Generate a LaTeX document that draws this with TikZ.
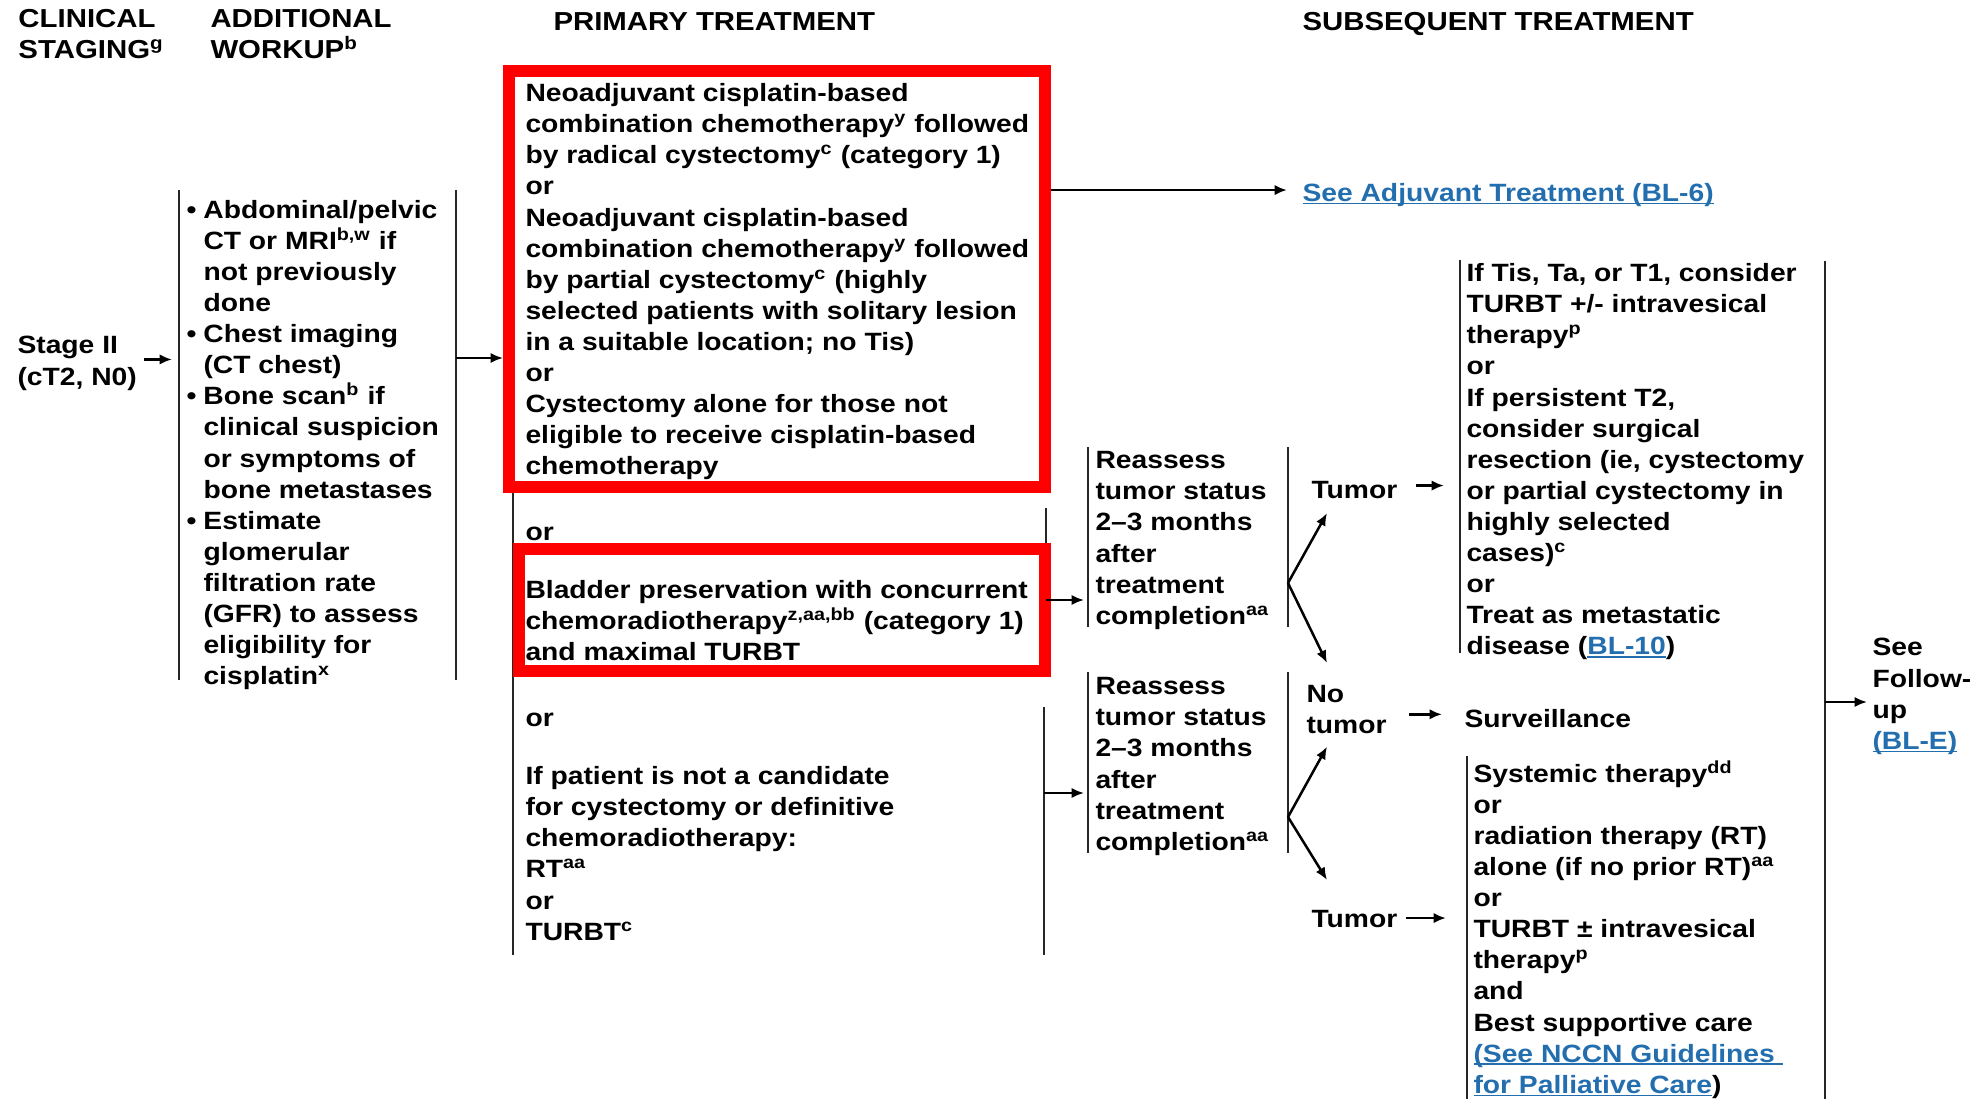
\documentclass[tikz,border=0pt]{standalone}
\usepackage{fontspec}
\setmainfont{Liberation Sans}[FakeStretch=1.13]
\usepackage{xcolor}
\usepackage{tikz}
\usetikzlibrary{arrows.meta}

\definecolor{linkblue}{RGB}{35,110,175}
\newcommand{\lnk}[1]{{\color{linkblue}\setbox0\hbox{#1}\rlap{\rule[-1.2pt]{\wd0}{0.7pt}}\box0}}
\newcommand{\bul}{\makebox[6.8pt][l]{\textbullet}}

\tikzset{
  txt/.style={anchor=north west,align=left,inner sep=0pt,font=\fontsize{10pt}{12.44pt}\selectfont\bfseries,execute at begin node=\strut},
  hdr/.style={anchor=north west,align=left,inner sep=0pt,font=\fontsize{10.4pt}{12.44pt}\selectfont\bfseries,execute at begin node=\strut},
  brk/.style={line width=1pt,black!85},
  arr/.style={-{Latex[length=5pt,width=4.2pt]},line width=1pt},
  hl/.style={draw=red,line width=4.8pt,anchor=north west,inner sep=0pt}
}

\begin{document}
\begin{tikzpicture}[x=0.4pt,y=-0.4pt]
    \useasboundingbox (0,0) rectangle (1975,1099);

    \node (C1) at (18,9)[hdr] {CLINICAL\\STAGING\textsuperscript{g}};
    \node (C2) at (210,9)[hdr] {ADDITIONAL\\WORKUP\textsuperscript{b}};
    \node (C3) at (553,8)[hdr] {PRIMARY TREATMENT};
    \node (C4) at (1302,8)[hdr] {SUBSEQUENT TREATMENT};

    \node (St) at (17,336)[txt] {Stage II\\(cT2, N0)};
    \node (Wk) at (186,196)[txt] {\begin{tabular}[t]{@{}l@{}l@{}}
      \bul & Abdominal/pelvic\\
           & CT or MRI\textsuperscript{b,w} if\\
           & not previously\\
           & done\\
      \bul & Chest imaging\\
           & (CT chest)\\
      \bul & Bone scan\textsuperscript{b} if\\
           & clinical suspicion\\
           & or symptoms of\\
           & bone metastases\\
      \bul & Estimate\\
           & glomerular\\
           & filtration rate\\
           & (GFR) to assess\\
           & eligibility for\\
           & cisplatin\textsuperscript{x}
    \end{tabular}};

    \node (P1) at (525,83)[txt] {Neoadjuvant cisplatin-based\\combination chemotherapy\textsuperscript{y} followed\\by radical cystectomy\textsuperscript{c} (category 1)\\or\\Neoadjuvant cisplatin-based\\combination chemotherapy\textsuperscript{y} followed\\by partial cystectomy\textsuperscript{c} (highly\\selected patients with solitary lesion\\in a suitable location; no Tis)\\or\\Cystectomy alone for those not\\eligible to receive cisplatin-based\\chemotherapy};
    \node (O1) at (525,518)[txt] {or};
    \node (P2) at (525,580)[txt] {Bladder preservation with concurrent\\chemoradiotherapy\textsuperscript{z,aa,bb} (category 1)\\and maximal TURBT};
    \node (O2) at (525,704)[txt] {or};
    \node (P3) at (525,766)[txt] {If patient is not a candidate\\for cystectomy or definitive\\chemoradiotherapy:\\RT\textsuperscript{aa}\\or\\TURBT\textsuperscript{c}};

    \node (R1) at (1095,451)[txt] {Reassess\\tumor status\\2--3 months\\after\\treatment\\completion\textsuperscript{aa}};
    \node (R2) at (1095,677)[txt] {Reassess\\tumor status\\2--3 months\\after\\treatment\\completion\textsuperscript{aa}};
    \node (T1) at (1311,476)[txt] {Tumor};
    \node (NT) at (1306,685)[txt] {No\\tumor};
    \node (T2) at (1311,905)[txt] {Tumor};

    \node (Adj) at (1302,179)[txt] {\lnk{See Adjuvant Treatment (BL-6)}};
    \node (S1) at (1466,263)[txt] {If Tis, Ta, or T1, consider\\TURBT +/- intravesical\\therapy\textsuperscript{p}\\or\\If persistent T2,\\consider surgical\\resection (ie, cystectomy\\or partial cystectomy in\\highly selected\\cases)\textsuperscript{c}\\or\\Treat as metastatic\\disease (\lnk{BL-10})};
    \node (Sv) at (1464,705)[txt] {Surveillance};
    \node (S2) at (1473,760)[txt] {Systemic therapy\textsuperscript{dd}\\or\\radiation therapy (RT)\\alone (if no prior RT)\textsuperscript{aa}\\or\\TURBT ± intravesical\\therapy\textsuperscript{p}\\and\\Best supportive care\\\lnk{(See NCCN Guidelines\ }\\\lnk{for Palliative Care})};
    \node (Fu) at (1872,638)[txt] {See\\Follow-\\up\\\lnk{(BL-E)}};

    \coordinate (wa) at (179,190);
    \coordinate (wb) at (179,680);
    \coordinate (wc) at (456,190);
    \coordinate (wd) at (456,680);
    \coordinate (wm) at (456,358);
    \coordinate (pa) at (513,70);
    \coordinate (pb) at (513,955);
    \coordinate (ba) at (1046,508);
    \coordinate (bb) at (1046,675);
    \coordinate (bm) at (1046,600);
    \coordinate (ca) at (1044,707);
    \coordinate (cb) at (1044,955);
    \coordinate (cm) at (1044,793);
    \coordinate (ra) at (1088,447);
    \coordinate (rb) at (1088,627);
    \coordinate (rc) at (1288,447);
    \coordinate (rd) at (1288,627);
    \coordinate (fa) at (1288,583);
    \coordinate (qa) at (1088,672);
    \coordinate (qb) at (1088,853);
    \coordinate (qc) at (1288,672);
    \coordinate (qd) at (1288,853);
    \coordinate (fb) at (1288,817);
    \coordinate (sa) at (1460,260);
    \coordinate (sb) at (1460,653);
    \coordinate (ya) at (1467,756);
    \coordinate (yb) at (1467,1099);
    \coordinate (za) at (1825,261);
    \coordinate (zb) at (1825,1099);
    \coordinate (zm) at (1825,702);

    \draw [brk] (wa) -- (wb);
    \draw [brk] (wc) -- (wd);
    \draw [brk] (pa) -- (pb);
    \draw [brk] (ba) -- (bb);
    \draw [brk] (ca) -- (cb);
    \draw [brk] (ra) -- (rb);
    \draw [brk] (rc) -- (rd);
    \draw [brk] (qa) -- (qb);
    \draw [brk] (qc) -- (qd);
    \draw [brk] (sa) -- (sb);
    \draw [brk] (ya) -- (yb);
    \draw [brk] (za) -- (zb);

    \node (F1) at (503,65)[hl,minimum width=214.4pt,minimum height=166.4pt] {};
    \node (F2) at (513,543)[hl,minimum width=210.4pt,minimum height=48.8pt] {};

    \draw [arr,shorten >=2.8pt] ([shift={(2.8pt,2.4pt)}]St.east) -- ([yshift=2.4pt]St.east -| wa);
    \draw [arr] (wm) -- (wm -| F1.west);
    \draw [arr,shorten >=6pt] ([yshift=2pt]F1.east |- Adj.west) -- ([yshift=2pt]Adj.west);
    \draw [arr,shorten >=1.6pt] (bm) -- (bm -| ra);
    \draw [arr,shorten >=1.6pt] (cm) -- (cm -| qa);
    \draw [arr] (fa) -- ([xshift=6.4pt,yshift=-2pt]T1.south west);
    \draw [arr] (fa) -- ([shift={(8.4pt,8.8pt)}]NT.north west);
    \draw [arr] (fb) -- ([shift={(8.4pt,-1.2pt)}]NT.south west);
    \draw [arr] (fb) -- ([shift={(6.4pt,10pt)}]T2.north west);
    \draw [arr,shorten <=7.2pt,shorten >=6.4pt] ([yshift=2.6pt]T1.east) -- ([yshift=2.6pt]T1.east -| sa);
    \draw [arr,shorten <=8.8pt,shorten >=8.8pt] (NT.east) -- (NT.east -| Sv.west);
    \draw [arr,shorten <=3.2pt,shorten >=8.4pt] ([yshift=1.2pt]T2.east) -- ([yshift=1.2pt]T2.east -| ya);
    \draw [arr,shorten >=2pt] (zm) -- (zm -| Fu.west);
\end{tikzpicture}
\end{document}
